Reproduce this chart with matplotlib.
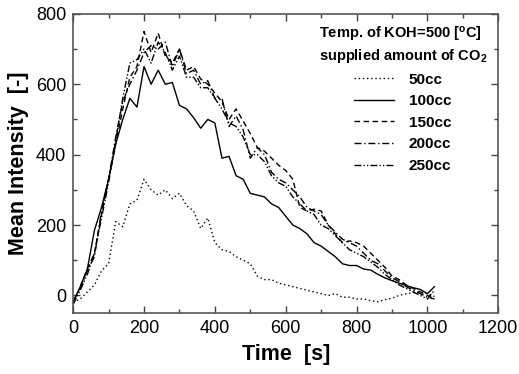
import matplotlib
matplotlib.use("Agg")
import matplotlib.pyplot as plt
from matplotlib.ticker import MultipleLocator
import numpy as np

plt.rcParams['font.family'] = ['Liberation Sans', 'DejaVu Sans']
plt.rcParams['mathtext.fontset'] = 'custom'
plt.rcParams['mathtext.rm'] = 'Liberation Sans'
plt.rcParams['mathtext.bf'] = 'Liberation Sans:bold'

time_s = list(range(0, 1021, 20))

i_50cc = [-20, -10, 10, 30, 70, 90, 210, 195, 260, 270, 330, 300, 285, 300, 275, 290, 255,
          240, 190, 220, 150, 130, 125, 110, 100, 90, 55, 45, 45, 35, 30, 25, 20, 15, 10, 5,
          0, 5, -5, -5, -10, -10, -15, -18, -12, -8, 0, 5, 8, 10, 5, -3]
i_100cc = [-20, 25, 75, 185, 250, 330, 430, 500, 560, 535, 650, 600, 640, 600, 605, 540,
           530, 505, 475, 500, 490, 390, 395, 340, 330, 290, 285, 280, 260, 250, 225, 200,
           190, 175, 150, 140, 125, 110, 90, 85, 85, 75, 72, 60, 50, 42, 35, 28, 22, 17, 5, 25]
i_150cc = [-20, 25, 75, 120, 230, 330, 430, 530, 620, 650, 750, 690, 745, 680, 660, 700,
           640, 650, 615, 600, 575, 550, 500, 530, 495, 460, 420, 410, 390, 370, 355, 330,
           250, 240, 245, 240, 200, 175, 150, 155, 150, 140, 120, 100, 80, 55, 45, 30, 20,
           10, 0, -10]
i_200cc = [-15, 20, 70, 110, 240, 330, 450, 550, 600, 640, 690, 710, 700, 720, 650, 700,
           630, 640, 600, 610, 560, 560, 480, 510, 470, 390, 420, 400, 350, 330, 320, 300,
           280, 250, 240, 230, 200, 180, 160, 150, 140, 120, 100, 90, 70, 50, 40, 25, 15, 5,
           -5, -10]
i_250cc = [-25, 15, 60, 120, 220, 320, 440, 560, 660, 670, 700, 660, 720, 690, 640, 680,
           620, 620, 590, 590, 560, 530, 490, 480, 450, 400, 400, 380, 340, 320, 310, 280,
           260, 240, 230, 200, 190, 170, 150, 130, 120, 110, 95, 80, 60, 45, 30, 20, 10, 0,
           -10, 15]

labels = ['50cc', '100cc', '150cc', '200cc', '250cc']
series = [i_50cc, i_100cc, i_150cc, i_200cc, i_250cc]
styles = [(0, (1, 2)), '-', (0, (4, 2.5)), (0, (5, 2, 1, 2)), (0, (5, 1.5, 1, 1.5, 1, 1.5))]

fig = plt.figure(figsize=(5.19, 3.74), dpi=100)
ax = fig.add_axes([0.141, 0.163, 0.819, 0.8])

for lab, ys, ls in zip(labels, series, styles):
    ax.plot(time_s, ys, color='black', lw=1.0, linestyle=ls, label=lab)

ax.set_xlim(0, 1200)
ax.set_ylim(-50, 800)
ax.xaxis.set_major_locator(MultipleLocator(200))
ax.xaxis.set_minor_locator(MultipleLocator(100))
ax.yaxis.set_major_locator(MultipleLocator(200))
ax.yaxis.set_minor_locator(MultipleLocator(100))
ax.tick_params(which='both', direction='in', top=True, right=True, labelsize=13, pad=5,
               color='#444444', width=1.0)
ax.tick_params(which='major', length=5)
ax.tick_params(which='minor', length=3)
for sp in ax.spines.values():
    sp.set_color('#555555')
    sp.set_linewidth(1.2)

ax.set_xlabel('Time  [s]', fontsize=15.5, fontweight='bold', labelpad=5)
ax.set_ylabel('Mean Intensity  [-]', fontsize=15.5, fontweight='bold', labelpad=5)

leg = ax.legend(loc='upper right', frameon=False, handlelength=2.6, handletextpad=1.0,
                labelspacing=0.5, prop={'weight': 'bold', 'size': 11},
                title='Temp. of KOH=500 [$\\mathbf{^o}$C]\nsupplied amount of CO$_\\mathbf{2}$',
                title_fontproperties={'weight': 'bold', 'size': 10.5},
                borderaxespad=0.35)

fig.savefig('out.png', dpi=100)
